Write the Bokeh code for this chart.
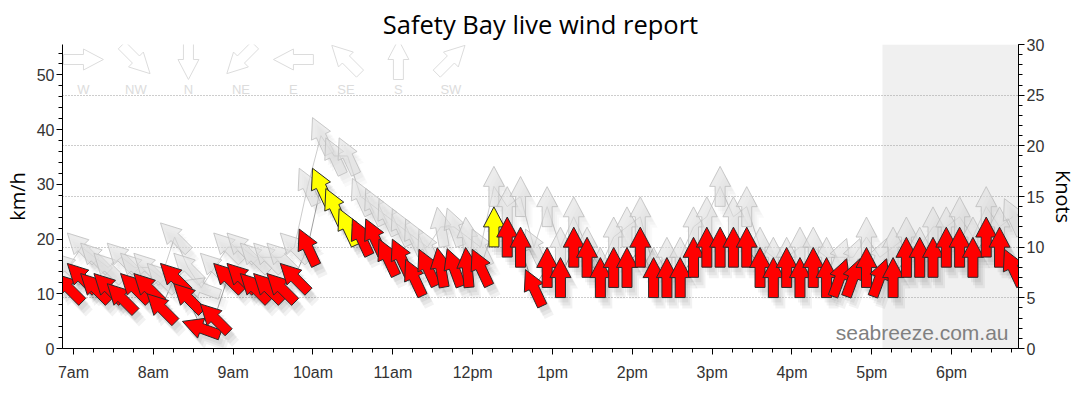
import math
from bokeh.plotting import figure
from bokeh.models import (LinearAxis, Range1d, FixedTicker, BoxAnnotation,
                          Label, ColumnDataSource)
from bokeh.core.properties import value
from bokeh.embed import file_html
from bokeh.resources import INLINE

# ---------------- data ----------------
TITLE = "Safety Bay live wind report"
TIMES = ["6:56", "7:06", "7:16", "7:26", "7:36", "7:46", "7:56", "8:06", "8:16", "8:26",
         "8:36", "8:46", "8:56", "9:06", "9:16", "9:26", "9:36", "9:46", "9:56", "10:06",
         "10:16", "10:26", "10:36", "10:46", "10:56", "11:06", "11:16", "11:26", "11:36", "11:46",
         "11:56", "12:06", "12:16", "12:26", "12:36", "12:46", "12:56", "13:06", "13:16", "13:26",
         "13:36", "13:46", "13:56", "14:06", "14:16", "14:26", "14:36", "14:46", "14:56", "15:06",
         "15:16", "15:26", "15:36", "15:46", "15:56", "16:06", "16:16", "16:26", "16:36", "16:46",
         "16:56", "17:06", "17:16", "17:26", "17:36", "17:46", "17:56", "18:06", "18:16", "18:26",
         "18:36", "18:46"]
WIND_KT = [6, 7, 6, 6, 5, 6, 6, 4, 7, 5,
           2, 3, 7, 7, 6, 6, 6, 7, 10, 16,
           14, 12, 11, 11, 9, 9, 7, 8, 8, 8,
           8, 8, 12, 11, 10, 6, 8, 7, 10, 9,
           7, 8, 8, 10, 7, 7, 7, 9, 10, 10,
           10, 10, 8, 7, 8, 7, 8, 7, 7, 7,
           8, 7, 7, 9, 9, 9, 10, 10, 9, 11,
           10, 8]
GUST_KT = [8, 10, 9, 8, 9, 8, 8, 7, 11, 8,
           6, 8, 10, 10, 9, 9, 9, 10, 16, 21,
           19, 19, 15, 14, 13, 12, 11, 10, 12, 12,
           11, 10, 16, 14, 15, 10, 14, 10, 13, 10,
           8, 11, 12, 13, 8, 9, 9, 12, 13, 16,
           13, 14, 10, 9, 9, 10, 10, 9, 9, 9,
           11, 9, 10, 11, 10, 12, 12, 13, 11, 14,
           12, 13]
DIR_DEG = [135, 135, 135, 135, 135, 135, 135, 135, 135, 135,
           110, 135, 135, 135, 135, 135, 135, 135, 155, 155,
           155, 155, 155, 155, 155, 155, 155, 155, 170, 160,
           175, 155, 180, 180, 180, 155, 180, 180, 180, 180,
           180, 180, 180, 180, 180, 180, 180, 180, 180, 180,
           180, 180, 180, 180, 180, 180, 180, 180, 200, 200,
           180, 200, 180, 180, 180, 180, 180, 180, 180, 180,
           180, 155]
HOUR_TICKS = [7, 8, 9, 10, 11, 12, 13, 14, 15, 16, 17, 18]
HOUR_LABELS = ["7am", "8am", "9am", "10am", "11am", "12pm",
               "1pm", "2pm", "3pm", "4pm", "5pm", "6pm"]
KMH_TICKS = [0, 10, 20, 30, 40, 50]
KNOT_TICKS = [0, 5, 10, 15, 20, 25, 30]
GRID_KNOTS = [5, 10, 15, 20, 25]
COMPASS_LABELS = ["W", "NW", "N", "NE", "E", "SE", "S", "SW"]
COMPASS_DIRS = [270, 315, 0, 45, 90, 135, 180, 225]
SHADE_FROM = "17:08"
ALERT_KT = 12
WATERMARK = "seabreeze.com.au"

KMH_PER_KT = 1.852


def hours(t):
    h, m = t.split(":")
    return int(h) + int(m) / 60.0


xs_t = [hours(t) for t in TIMES]
wind = [k * KMH_PER_KT for k in WIND_KT]
gust = [k * KMH_PER_KT for k in GUST_KT]

# ---------------- layout ----------------
W, H = 1080, 414
BL, BR, BT, BB = 61, 61, 44, 66
FW, FH = W - BL - BR, H - BT - BB
X0, X1 = 6.8625, 18.8375
Y1 = 30 * KMH_PER_KT
PXH = FW / (X1 - X0)
PXY = FH / Y1

SHAPE = [(0, 20), (10.5, 0), (5, 0), (5, -20), (-5, -20), (-5, 0), (-10.5, 0)]


def arrow(xc, yc, d, ox=0.0, oy=0.0):
    b = math.radians(d + 180)
    c, s = math.cos(b), math.sin(b)
    ax, ay = [], []
    for px, py in SHAPE:
        rx = px * c + py * s
        ry = -px * s + py * c
        ax.append(xc + (rx + ox) / PXH)
        ay.append(yc + (ry - oy) / PXY)
    return ax, ay


def sx(px):
    return X0 + (px - BL) / PXH


def sy(py):
    return (BT + FH - py) / PXY


p = figure(width=W, height=H, x_range=Range1d(X0, X1), y_range=Range1d(0, Y1),
           output_backend="svg", toolbar_location=None,
           min_border_left=BL, min_border_right=BR, min_border_top=BT, min_border_bottom=BB,
           background_fill_color="white", border_fill_color="white")
p.title.text = TITLE
p.title.align = "center"
p.title.text_font = "Open Sans"
p.title.text_font_size = "25.5px"
p.title.text_font_style = "normal"
p.title.text_color = "#000000"
p.title.standoff = 8
p.outline_line_color = None

p.extra_y_ranges = {"kt": Range1d(0, 30)}


def style_axis(ax, standoff=2):
    ax.axis_line_color = "black"
    ax.major_tick_line_color = "black"
    ax.minor_tick_line_color = "black"
    ax.major_tick_out = 6
    ax.major_tick_in = 0
    ax.minor_tick_out = 4
    ax.minor_tick_in = 0
    ax.major_label_text_font = "Liberation Sans"
    ax.major_label_text_font_size = "16px"
    ax.major_label_text_color = "#333333"
    ax.major_label_standoff = standoff
    ax.axis_label_text_font = "Open Sans"
    ax.axis_label_text_font_size = "20px"
    ax.axis_label_text_font_style = "normal"
    ax.axis_label_text_color = "#000000"
    ax.axis_label_standoff = 3


xa = p.xaxis[0]
xa.ticker = FixedTicker(ticks=HOUR_TICKS,
                        minor_ticks=[h + q / 4 for h in range(6, 19) for q in range(4)])
xa.major_label_overrides = {h: lab for h, lab in zip(HOUR_TICKS, HOUR_LABELS)}
style_axis(xa, standoff=9)

la = p.yaxis[0]
la.ticker = FixedTicker(ticks=KMH_TICKS, minor_ticks=list(range(0, 56, 2)))
la.axis_label = "km/h"
style_axis(la)

ra = LinearAxis(y_range_name="kt", axis_label="Knots",
                ticker=FixedTicker(ticks=KNOT_TICKS, minor_ticks=list(range(0, 31))))
style_axis(ra)
p.add_layout(ra, "right")

p.xgrid.visible = False
p.ygrid.ticker = FixedTicker(ticks=[k * KMH_PER_KT for k in GRID_KNOTS])
p.ygrid.grid_line_color = "#9a9a9a"
p.ygrid.grid_line_dash = "1 2"
p.ygrid.grid_line_width = 1

shade = BoxAnnotation(left=hours(SHADE_FROM), fill_color="#f0f0f0", fill_alpha=1.0,
                      line_color=None, level="image")
p.add_layout(shade)

# ---------------- compass key ----------------
cxs, cys, lx, ly = [], [], [], []
for k, d in enumerate(COMPASS_DIRS):
    cx = sx(82 + 52.6 * k)
    ax_, ay_ = arrow(cx, sy(59), d)
    cxs.append(ax_)
    cys.append(ay_)
    lx.append(cx)
    ly.append(sy(89))
p.patches(xs=cxs, ys=cys, fill_color="white", fill_alpha=0.0,
          line_color="#dcdcdc", line_width=1)
p.text(x=lx, y=ly, text=COMPASS_LABELS, text_align="center", text_baseline="middle",
       text_font=value("Liberation Sans"), text_font_size="13px", text_color="#dcdcdc")

# ---------------- lines ----------------
p.line(xs_t, gust, line_color="#cccccc", line_width=1)
p.line(xs_t, wind, line_color="#a0a0a0", line_width=1)

SHADOW = [(3, 5), (5, 8), (7, 11)]

# gust arrows
for ox, oy in SHADOW:
    sxs, sys_ = [], []
    for xv, yv, d in zip(xs_t, gust, DIR_DEG):
        a, b = arrow(xv, yv, d, ox, oy)
        sxs.append(a)
        sys_.append(b)
    p.patches(xs=sxs, ys=sys_, fill_color="black", fill_alpha=0.025, line_color=None)
gxs, gys = [], []
for xv, yv, d in zip(xs_t, gust, DIR_DEG):
    a, b = arrow(xv, yv, d)
    gxs.append(a)
    gys.append(b)
p.patches(xs=gxs, ys=gys, fill_color="#e0e0e0", fill_alpha=0.6,
          line_color="#bdbdbd", line_alpha=0.8, line_width=1)

# wind arrows
for ox, oy in SHADOW:
    sxs, sys_ = [], []
    for xv, yv, d in zip(xs_t, wind, DIR_DEG):
        a, b = arrow(xv, yv, d, ox, oy)
        sxs.append(a)
        sys_.append(b)
    p.patches(xs=sxs, ys=sys_, fill_color="black", fill_alpha=0.05, line_color=None)
wxs, wys = [], []
for xv, yv, d in zip(xs_t, wind, DIR_DEG):
    a, b = arrow(xv, yv, d)
    wxs.append(a)
    wys.append(b)
colors = ["#ffff00" if k >= ALERT_KT else "#ff0000" for k in WIND_KT]
src = ColumnDataSource(dict(xs=wxs, ys=wys, color=colors))
p.patches(xs="xs", ys="ys", source=src, fill_color="color", line_color="#2a2a2a", line_width=1)

# watermark
p.add_layout(Label(x=X1 - 10 / PXH, y=5 / PXY, text=WATERMARK, text_align="right",
                   text_baseline="bottom", text_font="Liberation Sans",
                   text_font_size="21px", text_color="#808080"))

open("out.html", "w").write(file_html(p, INLINE))
